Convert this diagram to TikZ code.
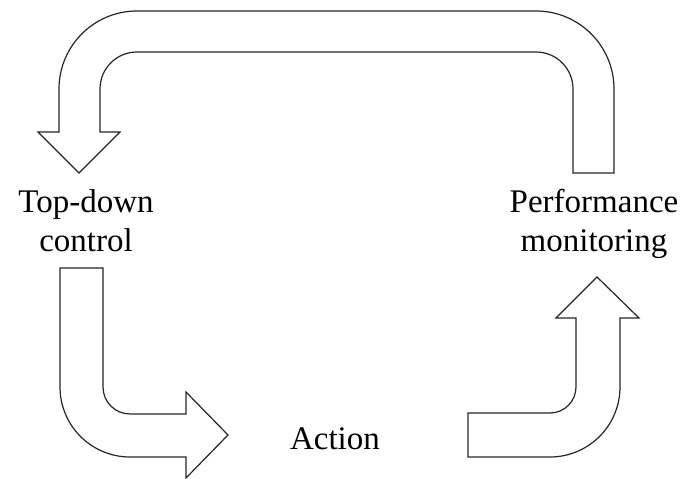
\documentclass[tikz,border=0pt]{standalone}
\usepackage{fontspec}
\setmainfont{Liberation Serif}
\begin{document}
\begin{tikzpicture}[x=1pt,y=1pt,
  blockarrow/.style={draw=black!85,line width=1.2pt,fill=white,line join=miter},
  lbl/.style={inner sep=0pt,align=center,font=\fontsize{33}{39}\selectfont}]
\useasboundingbox (0,0) rectangle (683,479);
% top U-turn arrow: performance monitoring -> top-down control
\draw[blockarrow] (614,306) -- (614,390) arc[start angle=0,end angle=90,radius=78]
  -- (137,468) arc[start angle=90,end angle=180,radius=78]
  -- (59,347) -- (38,347) -- (79,306) -- (120,347) -- (100,347)
  -- (100,390) arc[start angle=180,end angle=90,radius=37]
  -- (536,427) arc[start angle=90,end angle=0,radius=37]
  -- (573,306) -- cycle;
% bottom-left arrow: top-down control -> action
\draw[blockarrow] (60,211) -- (60,92) arc[start angle=180,end angle=270,radius=70]
  -- (186,22) -- (186,1) -- (228,44) -- (186,87) -- (186,65)
  -- (130,65) arc[start angle=270,end angle=180,radius=27]
  -- (103,211) -- cycle;
% bottom-right arrow: action -> performance monitoring
\draw[blockarrow] (468,22) -- (550,22) arc[start angle=270,end angle=360,radius=70]
  -- (620,161) -- (639,161) -- (597,202) -- (556,161) -- (576,161)
  -- (576,92) arc[start angle=0,end angle=-90,radius=26]
  -- (468,66) -- cycle;
\node[lbl,anchor=north] (tdc) at (86,290) {Top-down\\control};
\node[lbl,anchor=north] (pm) at (594,290) {Performance\\monitoring};
\node[lbl,anchor=base] (act) at (335,29) {Action};
\end{tikzpicture}
\end{document}
